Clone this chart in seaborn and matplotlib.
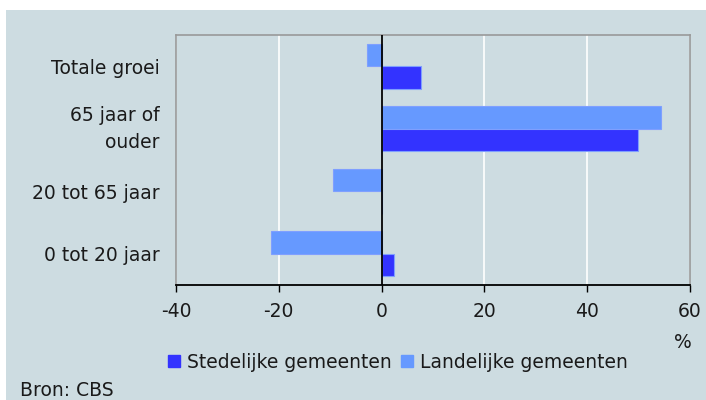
import matplotlib
matplotlib.use("Agg")
import matplotlib.pyplot as plt
import matplotlib.patches as mpatches
import seaborn as sns
import pandas as pd

categories = ["Totale groei", "65 jaar of\nouder", "20 tot 65 jaar", "0 tot 20 jaar"]
stedelijk = [7.7, 49.9, 0.0, 2.4]
landelijk = [-2.8, 54.4, -9.5, -21.6]
series_names = ["Stedelijke gemeenten", "Landelijke gemeenten"]
x_ticks = [-40, -20, 0, 20, 40, 60]
source = "Bron: CBS"

BG = "#cddce1"
C_STED = "#3333ff"
C_LAND = "#6699ff"
TXT = "#1a1a1a"
FS = 13.5

df = pd.DataFrame({
    "cat": categories * 2,
    "val": landelijk + stedelijk,
    "serie": [series_names[1]] * len(categories) + [series_names[0]] * len(categories),
})

sns.set_theme(style="white")
plt.rcParams["font.family"] = ["DejaVu Sans"]
plt.rcParams["text.color"] = TXT
plt.rcParams["xtick.color"] = TXT
plt.rcParams["ytick.color"] = TXT

fig = plt.figure(figsize=(7.06, 4.0), dpi=100, facecolor="white")
fig.patches.append(mpatches.Rectangle((6 / 706, 0), 1, 1 - 10 / 400,
                                      transform=fig.transFigure, facecolor=BG,
                                      edgecolor="none", zorder=-10))
ax = fig.add_axes([176 / 706, 1 - 285 / 400, (690 - 176) / 706, (285 - 35) / 400])
ax.set_facecolor(BG)

sns.barplot(data=df, x="val", y="cat", hue="serie",
            hue_order=[series_names[1], series_names[0]],
            palette={series_names[0]: C_STED, series_names[1]: C_LAND},
            order=categories, orient="h", width=0.72, dodge=True, saturation=1,
            linewidth=0.8, ax=ax, legend=False, zorder=3)
for p in ax.patches:
    p.set_edgecolor("#7f9fff")

ax.set_xlim(-40, 60)
ax.set_xticks(x_ticks)
ax.set_xticklabels([str(t) for t in x_ticks])
ax.set_xlabel("")
ax.set_ylabel("")
ax.xaxis.grid(True, color="white", linewidth=1.2, zorder=0)
ax.set_axisbelow(True)
ax.axvline(0, color="black", linewidth=1.3, zorder=4)

for s in ["left", "top", "right"]:
    ax.spines[s].set_color("#999999")
    ax.spines[s].set_linewidth(1.2)
ax.spines["bottom"].set_color("black")
ax.spines["bottom"].set_linewidth(1.3)

ax.tick_params(axis="x", direction="out", length=5, width=1, color="black",
               labelcolor=TXT, labelsize=FS, pad=7, bottom=True)
ax.tick_params(axis="y", length=0, labelsize=FS, labelcolor=TXT, pad=12)
for lab in ax.get_yticklabels():
    lab.set_horizontalalignment("right")
    lab.set_multialignment("right")
    lab.set_linespacing(1.5)
    if "\n" in lab.get_text():
        lab.set_verticalalignment("center")

fig.text(683 / 706, 1 - 342 / 400, "%", ha="center", va="center", fontsize=FS, color=TXT)

handles = [mpatches.Patch(color=C_STED, label=series_names[0]),
           mpatches.Patch(color=C_LAND, label=series_names[1])]
fig.legend(handles=handles, loc="center", bbox_to_anchor=(398 / 706, 1 - 362 / 400),
           ncol=2, frameon=False, fontsize=FS, handlelength=0.65, handleheight=0.65,
           handletextpad=0.35, columnspacing=0.5, borderpad=0, labelcolor=TXT)

fig.text(20 / 706, 1 - 390 / 400, source, ha="left", va="center", fontsize=FS, color=TXT)

fig.savefig("out.png", dpi=100, facecolor="white")
